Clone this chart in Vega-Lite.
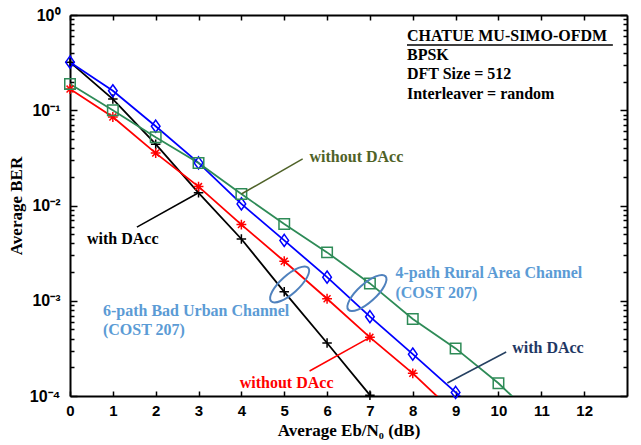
{
  "$schema": "https://vega.github.io/schema/vega-lite/v6.json",
  "width": 557,
  "height": 381,
  "autosize": {"type": "none"},
  "padding": {"left": 70, "top": 15, "right": 14, "bottom": 49},
  "background": "white",
  "config": {
    "view": {"stroke": null},
    "axis": {
      "domainColor": "black", "domainWidth": 2, "tickColor": "black", "tickWidth": 1.5, "grid": false,
      "labelFont": "Liberation Sans", "labelFontWeight": "bold", "labelFontSize": 15, "labelColor": "black",
      "titleFont": "Liberation Serif", "titleFontWeight": "bold", "titleFontSize": 17, "titleColor": "black",
      "labelFlush": false, "labelOverlap": false
    }
  },
  "datasets": {
    "curves": [
      {"snr": 0, "ber": 0.32, "curve": "6-path with DAcc"},
      {"snr": 1, "ber": 0.131, "curve": "6-path with DAcc"},
      {"snr": 2, "ber": 0.044, "curve": "6-path with DAcc"},
      {"snr": 3, "ber": 0.0136, "curve": "6-path with DAcc"},
      {"snr": 4, "ber": 0.00445, "curve": "6-path with DAcc"},
      {"snr": 5, "ber": 0.00124, "curve": "6-path with DAcc"},
      {"snr": 6, "ber": 0.00036, "curve": "6-path with DAcc"},
      {"snr": 7, "ber": 0.000102, "curve": "6-path with DAcc"},
      {"snr": 0, "ber": 0.167, "curve": "6-path without DAcc"},
      {"snr": 1, "ber": 0.085, "curve": "6-path without DAcc"},
      {"snr": 2, "ber": 0.0355, "curve": "6-path without DAcc"},
      {"snr": 3, "ber": 0.0158, "curve": "6-path without DAcc"},
      {"snr": 4, "ber": 0.0063, "curve": "6-path without DAcc"},
      {"snr": 5, "ber": 0.0026, "curve": "6-path without DAcc"},
      {"snr": 6, "ber": 0.00105, "curve": "6-path without DAcc"},
      {"snr": 7, "ber": 0.000413, "curve": "6-path without DAcc"},
      {"snr": 8, "ber": 0.000173, "curve": "6-path without DAcc"},
      {"snr": 9, "ber": 0.000065, "curve": "6-path without DAcc"},
      {"snr": 0, "ber": 0.32, "curve": "4-path with DAcc"},
      {"snr": 1, "ber": 0.16, "curve": "4-path with DAcc"},
      {"snr": 2, "ber": 0.068, "curve": "4-path with DAcc"},
      {"snr": 3, "ber": 0.028, "curve": "4-path with DAcc"},
      {"snr": 4, "ber": 0.0104, "curve": "4-path with DAcc"},
      {"snr": 5, "ber": 0.0043, "curve": "4-path with DAcc"},
      {"snr": 6, "ber": 0.00177, "curve": "4-path with DAcc"},
      {"snr": 7, "ber": 0.00068, "curve": "4-path with DAcc"},
      {"snr": 8, "ber": 0.000275, "curve": "4-path with DAcc"},
      {"snr": 9, "ber": 0.000109, "curve": "4-path with DAcc"},
      {"snr": 10, "ber": 0.000044, "curve": "4-path with DAcc"},
      {"snr": 0, "ber": 0.189, "curve": "4-path without DAcc"},
      {"snr": 1, "ber": 0.1, "curve": "4-path without DAcc"},
      {"snr": 2, "ber": 0.052, "curve": "4-path without DAcc"},
      {"snr": 3, "ber": 0.028, "curve": "4-path without DAcc"},
      {"snr": 4, "ber": 0.0132, "curve": "4-path without DAcc"},
      {"snr": 5, "ber": 0.0064, "curve": "4-path without DAcc"},
      {"snr": 6, "ber": 0.00322, "curve": "4-path without DAcc"},
      {"snr": 7, "ber": 0.00152, "curve": "4-path without DAcc"},
      {"snr": 8, "ber": 0.000643, "curve": "4-path without DAcc"},
      {"snr": 9, "ber": 0.000316, "curve": "4-path without DAcc"},
      {"snr": 10, "ber": 0.000136, "curve": "4-path without DAcc"},
      {"snr": 11, "ber": 0.000051, "curve": "4-path without DAcc"}
    ],
    "leaders": [
      {"snr": 1.561, "ber": 0.00594, "snr2": 3, "ber2": 0.0136, "kind": "6-path with DAcc"},
      {"snr": 4, "ber": 0.0132, "snr2": 5.43, "ber2": 0.0308, "kind": "4-path without DAcc"},
      {"snr": 8.807, "ber": 0.0001368, "snr2": 10.18, "ber2": 0.0002897, "kind": "4-path with DAcc"},
      {"snr": 5.592, "ber": 0.000183, "snr2": 7, "ber2": 0.000413, "kind": "6-path without DAcc"},
      {"snr": 7.865, "ber": 0.484, "snr2": 12.67, "ber2": 0.484, "kind": "header"}
    ],
    "ellipses": [
      {"snr": 5.126, "ber": 0.001482, "channel": "6-path Bad Urban"},
      {"snr": 6.93, "ber": 0.001206, "channel": "4-path Rural Area"}
    ],
    "notes": [
      {"text": "with DAcc", "snr": 0.396, "ber": 0.00445, "kind": "6-path with DAcc"},
      {"text": "without DAcc", "snr": 5.59, "ber": 0.0323, "kind": "4-path without DAcc"},
      {"text": "with DAcc", "snr": 10.32, "ber": 0.000319, "kind": "4-path with DAcc"},
      {"text": "without DAcc", "snr": 3.961, "ber": 0.0001368, "kind": "6-path without DAcc"},
      {"text": "4-path Rural Area Channel", "snr": 7.596, "ber": 0.00196, "kind": "channel"},
      {"text": "(COST 207)", "snr": 7.596, "ber": 0.001206, "kind": "channel"},
      {"text": "6-path Bad Urban Channel", "snr": 0.769, "ber": 0.00078, "kind": "channel"},
      {"text": "(COST 207)", "snr": 0.769, "ber": 0.000493, "kind": "channel"},
      {"text": "CHATUE MU-SIMO-OFDM", "snr": 7.865, "ber": 0.602, "kind": "header"},
      {"text": "BPSK", "snr": 7.865, "ber": 0.38, "kind": "header"},
      {"text": "DFT Size = 512", "snr": 7.865, "ber": 0.24, "kind": "header"},
      {"text": "Interleaver = random", "snr": 7.865, "ber": 0.148, "kind": "header"}
    ]
  },
  "layer": [
    {
      "data": {"name": "curves"},
      "mark": {"type": "line", "clip": true, "strokeWidth": 1.8},
      "encoding": {
        "x": {"field": "snr", "type": "quantitative", "scale": {"domain": [0, 13], "nice": false, "zero": false},
          "axis": {"orient": "bottom", "values": [0,1,2,3,4,5,6,7,8,9,10,11,12], "tickSize": -5, "labelPadding": 12, "title": "Average Eb/N₀ (dB)", "titlePadding": 4}},
        "y": {"field": "ber", "type": "quantitative", "scale": {"type": "log", "domain": [0.0001, 1], "nice": false},
          "axis": {"orient": "left",
            "values": [0.0001,0.0002,0.0003,0.0004,0.0005,0.0006,0.0007,0.0008,0.0009,0.001,0.002,0.003,0.004,0.005,0.006,0.007,0.008,0.009,0.01,0.02,0.03,0.04,0.05,0.06,0.07,0.08,0.09,0.1,0.2,0.3,0.4,0.5,0.6,0.7,0.8,0.9,1],
            "labelExpr": "datum.value == 1 ? '10⁰' : datum.value == 0.1 ? '10⁻¹' : datum.value == 0.01 ? '10⁻²' : datum.value == 0.001 ? '10⁻³' : datum.value == 0.0001 ? '10⁻⁴' : ''",
            "labelFontSize": 16,
            "tickSize": {"condition": {"test": "indexof([1,0.1,0.01,0.001,0.0001], datum.value) >= 0", "value": -7}, "value": -4},
            "labelPadding": 17, "title": "Average BER", "titlePadding": 4}},
        "color": {"field": "curve", "type": "nominal", "legend": null,
          "scale": {"domain": ["6-path with DAcc", "6-path without DAcc", "4-path with DAcc", "4-path without DAcc"], "range": ["#000000", "#FF0000", "#0000FF", "#2E8B57"]}}
      }
    },
    {
      "data": {"name": "curves"},
      "transform": [{"filter": "datum.ber >= 0.0001"}],
      "mark": {"type": "point", "filled": false, "strokeWidth": 1.5, "opacity": 1},
      "encoding": {
        "x": {"field": "snr", "type": "quantitative", "scale": {"domain": [0, 13], "nice": false, "zero": false},
          "axis": {"orient": "top", "values": [0,1,2,3,4,5,6,7,8,9,10,11,12], "tickSize": -5, "labels": false, "title": null}},
        "y": {"field": "ber", "type": "quantitative", "scale": {"type": "log", "domain": [0.0001, 1], "nice": false},
          "axis": {"orient": "right",
            "values": [0.0001,0.0002,0.0003,0.0004,0.0005,0.0006,0.0007,0.0008,0.0009,0.001,0.002,0.003,0.004,0.005,0.006,0.007,0.008,0.009,0.01,0.02,0.03,0.04,0.05,0.06,0.07,0.08,0.09,0.1,0.2,0.3,0.4,0.5,0.6,0.7,0.8,0.9,1],
            "tickSize": {"condition": {"test": "indexof([1,0.1,0.01,0.001,0.0001], datum.value) >= 0", "value": -7}, "value": -4},
            "labels": false, "title": null}},
        "color": {"field": "curve", "type": "nominal", "legend": null,
          "scale": {"domain": ["6-path with DAcc", "6-path without DAcc", "4-path with DAcc", "4-path without DAcc"], "range": ["#000000", "#FF0000", "#0000FF", "#2E8B57"]}},
        "shape": {"field": "curve", "type": "nominal", "legend": null,
          "scale": {"domain": ["6-path with DAcc", "6-path without DAcc", "4-path with DAcc", "4-path without DAcc"],
            "range": ["M-1,0L1,0M0,-1L0,1", "M-1,0L1,0M0,-1L0,1M-0.7,-0.7L0.7,0.7M-0.7,0.7L0.7,-0.7", "M0,-1.2L0.85,0L0,1.2L-0.85,0Z", "square"]}},
        "size": {"field": "curve", "type": "nominal", "legend": null,
          "scale": {"domain": ["6-path with DAcc", "6-path without DAcc", "4-path with DAcc", "4-path without DAcc"], "range": [90, 110, 105, 56]}}
      }
    },
    {
      "data": {"name": "leaders"},
      "mark": {"type": "rule", "strokeWidth": 1.5},
      "encoding": {
        "x": {"field": "snr", "type": "quantitative", "scale": {"domain": [0, 13], "nice": false, "zero": false}, "axis": null},
        "y": {"field": "ber", "type": "quantitative", "scale": {"type": "log", "domain": [0.0001, 1], "nice": false}, "axis": null},
        "x2": {"field": "snr2"},
        "y2": {"field": "ber2"},
        "color": {"field": "kind", "type": "nominal", "legend": null,
          "scale": {"domain": ["6-path with DAcc", "6-path without DAcc", "4-path with DAcc", "4-path without DAcc", "header"], "range": ["#000000", "#FF0000", "#254061", "#4F6228", "#000000"]}}
      }
    },
    {
      "data": {"name": "ellipses"},
      "mark": {"type": "point", "shape": "M-1,0A1,0.36,0,1,0,1,0A1,0.36,0,1,0,-1,0Z", "size": 2500, "angle": -42, "filled": false, "color": "#4F81BD", "strokeWidth": 2, "opacity": 1},
      "encoding": {
        "x": {"field": "snr", "type": "quantitative", "scale": {"domain": [0, 13], "nice": false, "zero": false}, "axis": null},
        "y": {"field": "ber", "type": "quantitative", "scale": {"type": "log", "domain": [0.0001, 1], "nice": false}, "axis": null}
      }
    },
    {
      "data": {"name": "notes"},
      "mark": {"type": "text", "align": "left", "baseline": "middle", "font": "Liberation Serif", "fontWeight": "bold", "fontSize": 16},
      "encoding": {
        "x": {"field": "snr", "type": "quantitative", "scale": {"domain": [0, 13], "nice": false, "zero": false}, "axis": null},
        "y": {"field": "ber", "type": "quantitative", "scale": {"type": "log", "domain": [0.0001, 1], "nice": false}, "axis": null},
        "text": {"field": "text"},
        "color": {"field": "kind", "type": "nominal", "legend": null,
          "scale": {"domain": ["6-path with DAcc", "6-path without DAcc", "4-path with DAcc", "4-path without DAcc", "channel", "header"], "range": ["#000000", "#FF0000", "#1F3864", "#4F6228", "#5B9BD5", "#000000"]}}
      }
    }
  ],
  "resolve": {
    "axis": {"x": "independent", "y": "independent"},
    "scale": {"color": "independent", "shape": "independent", "size": "independent"}
  }
}
